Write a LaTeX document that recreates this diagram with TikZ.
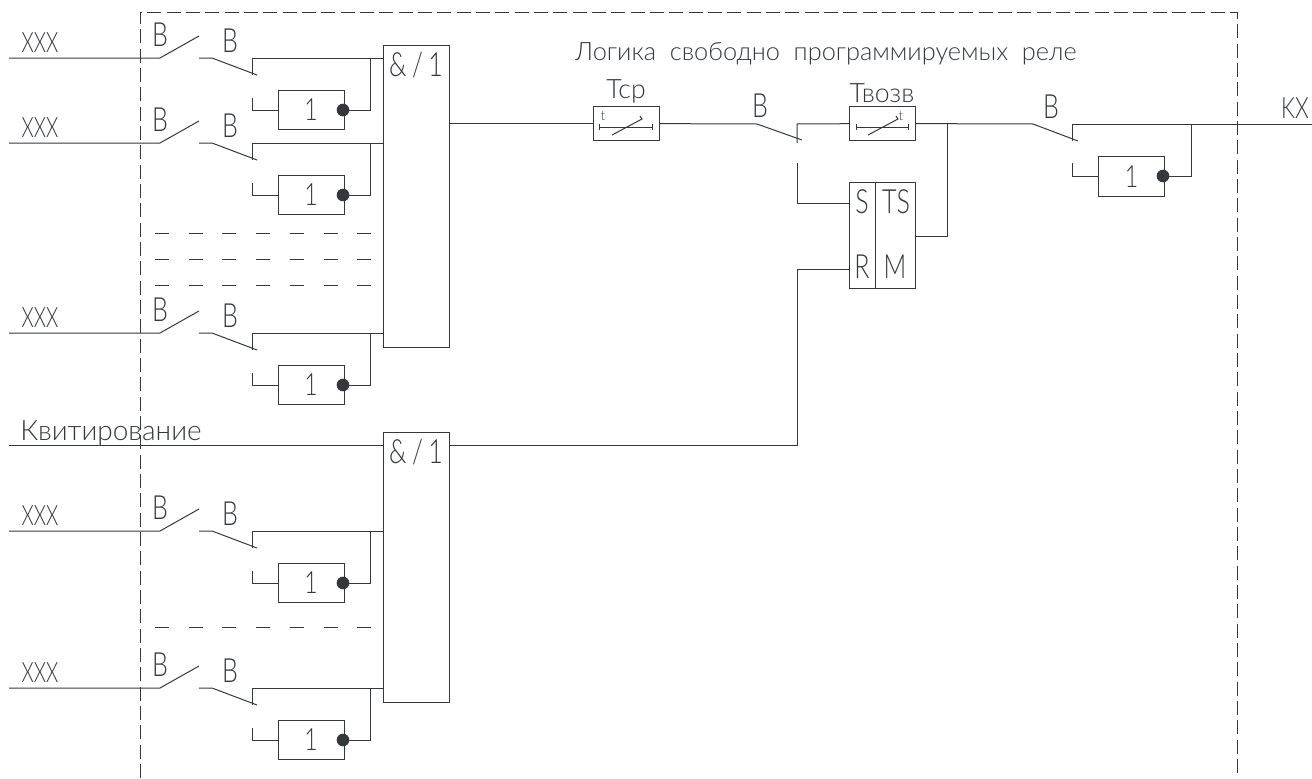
\documentclass[tikz,border=0pt]{standalone}
\usepackage{fontspec}
\setmainfont{Lato}[UprightFont=* Light]
\newfontfamily\slimfont{Lato}[UprightFont=* Light, FakeStretch=0.75]
\newfontfamily\thinfont{Lato}[UprightFont=* Light, FakeStretch=0.7]
\usepackage{xcolor}
\usetikzlibrary{shapes,arrows,positioning}
\definecolor{inkline}{HTML}{33383D}

\begin{document}
\begin{tikzpicture}[x=0.75pt, y=-0.75pt, line width=0.75pt, draw=inkline, text=inkline]
    % Define styles
    \tikzstyle{gate} = [rectangle, draw, minimum width=49.5pt, inner sep=0pt, outer sep=0pt]
    \tikzstyle{invert} = [rectangle, draw, minimum width=49.5pt, minimum height=29.5pt, inner sep=0pt, outer sep=0pt, font=\slimfont\fontsize{23}{23}\selectfont]
    \tikzstyle{blob} = [circle, fill=inkline, minimum size=9.5pt, inner sep=0pt, outer sep=0pt]
    \tikzstyle{timer} = [rectangle, draw, minimum width=49.5pt, minimum height=25pt, inner sep=0pt, outer sep=0pt]
    \tikzstyle{trigger} = [rectangle, draw, minimum width=49.5pt, minimum height=79pt, inner sep=0pt, outer sep=0pt]
    \tikzstyle{lbl} = [anchor=base, inner sep=0pt, font=\slimfont\fontsize{25}{25}\selectfont]
    \tikzstyle{small} = [anchor=base, inner sep=0pt, font=\fontsize{10}{10}\selectfont]
    \tikzstyle{wire} = [line width=0.75pt]
    \tikzstyle{frame} = [line width=0.7pt, dash pattern=on 10.5pt off 4pt]
    \tikzstyle{gap} = [line width=0.7pt, dash pattern=on 10.5pt off 14.8pt]

    \useasboundingbox (0,0) rectangle (1312,778);

    % Outer frame
    \draw [frame] (140,778) -- (140,12) -- (1237,12) -- (1237,778);

    % Gates
    \node [gate, minimum height=226.5pt] (gateA) at (416,196) {};
    \node [gate, minimum height=202.5pt] (gateB) at (416,567) {};
    \node [lbl] (gateAname) at (416,76) {\&\,/\,1};
    \node [lbl] (gateBname) at (416,463) {\&\,/\,1};

    % Input channels
    \foreach \i/\y/\g in {1/58/gateA, 2/143/gateA, 3/333/gateA, 4/531/gateB, 5/688/gateB} {
        \coordinate (in\i) at (9,\y);
        \coordinate (piv\i) at (160,\y);
        \coordinate (tip\i) at (199,\y-22);
        \coordinate (con\i) at (199,\y);
        \coordinate (bend\i) at (212,\y);
        \coordinate (end\i) at (257,\y+17);
        \coordinate (tap\i) at (252,\y);
        \coordinate (low\i) at (252,\y+17);
        \coordinate (back\i) at (252,\y+40);
        \coordinate (fb\i) at (370,\y);
        \node [lbl, font=\thinfont\fontsize{21}{21}\selectfont] (xxx\i) at (40,\y-6) {XXX};
        \node [lbl] (ba\i) at (160,\y-12) {B};
        \node [lbl] (bb\i) at (230,\y-6) {B};
        \node [invert] (inv\i) at (311,\y+52) {1};
        \node [blob] (dot\i) at (343,\y+52) {};
        \draw [wire] (in\i) -- (piv\i) -- (tip\i);
        \draw [wire] (con\i) -- (bend\i) -- (end\i);
        \draw [wire] (low\i) -- (tap\i) -- (tap\i -| \g.west);
        \draw [wire] (back\i) |- (inv\i.west);
        \draw [wire] (dot\i) -| (fb\i);
    }

    % Omitted channels
    \draw [gap] (155,233) -- (372,233);
    \draw [gap] (155,259) -- (372,259);
    \draw [gap] (155,285) -- (372,285);
    \draw [gap] (155,627) -- (372,627);

    % Reset line
    \coordinate (kvit) at (9,445);
    \node [lbl, font=\fontsize{21}{21}\selectfont] (kvitname) at (111,440) {Квитирование};
    \draw [wire] (kvit) -- (kvit -| gateB.west);

    % Title
    \node [lbl, font=\fontsize{19}{19}\selectfont] (title) at (826,60) {Логика\ \ свободно\ \ программируемых\ \ реле};

    % Timers
    \node [timer] (tcp) at (626,123.5) {};
    \node [timer] (tvozv) at (882,123.5) {};
    \node [lbl, font=\fontsize{20}{20}\selectfont] (tcpname) at (626,98) {Тср};
    \node [lbl, font=\fontsize{20}{20}\selectfont] (tvozvname) at (882,102) {Твозв};
    \node [small] (tcpt) at (603,120) {t};
    \node [small] (tvozvt) at (901,120) {t};
    \draw [wire] ([shift={(-27,3.5)}]tcp.center) -- ++(53,0);
    \draw [wire] ([shift={(-27,0.5)}]tcp.center) -- ++(0,6);
    \draw [wire] ([shift={(26,0.5)}]tcp.center) -- ++(0,6);
    \draw [wire] ([shift={(-14,11.5)}]tcp.center) -- ++(30,-16) -- ++(-2,-3);
    \draw [wire] ([shift={(-26,3.5)}]tvozv.center) -- ++(52,0);
    \draw [wire] ([shift={(-26,0.5)}]tvozv.center) -- ++(0,6);
    \draw [wire] ([shift={(26,0.5)}]tvozv.center) -- ++(0,6);
    \draw [wire] ([shift={(-14,11.5)}]tvozv.center) -- ++(30,-16) -- ++(-2,-3);

    % Trigger
    \node [trigger] (ts) at (882,235.5) {};
    \draw [wire] (875,183) -- (875,288);
    \node [lbl] (sname) at (862,213) {S};
    \node [lbl] (tsname) at (896,213) {TS};
    \node [lbl] (rname) at (862,278) {R};
    \node [lbl] (mname) at (895,278) {M};

    % Middle contact
    \coordinate (sw) at (757,124);
    \coordinate (swend) at (802,140);
    \coordinate (swtap) at (797,124);
    \coordinate (swlow) at (797,143);
    \coordinate (swback) at (797,163);
    \coordinate (setin) at (849,203);
    \coordinate (resin) at (849,269);
    \coordinate (resbend) at (797,445);
    \coordinate (tsout) at (915,236);
    \coordinate (tsup) at (947,124);
    \node [lbl] (swname) at (760,117) {B};

    % Output contact
    \coordinate (op) at (1033,124);
    \coordinate (opend) at (1078,141);
    \coordinate (optap) at (1072,124);
    \coordinate (oplow) at (1072,141);
    \coordinate (opback) at (1072,163);
    \coordinate (opfb) at (1191,124);
    \coordinate (kx) at (1312,124);
    \node [lbl] (opname) at (1051,118) {B};
    \node [lbl, font=\slimfont\fontsize{22}{22}\selectfont] (kxname) at (1295,118) {KX};
    \node [invert] (invout) at (1131.5,176.5) {1};
    \node [blob] (dotout) at (1163,176) {};

    % Connections
    \draw [wire] (gateA.east |- tcp) -- (tcp);
    \draw [wire] (tcp) -- (sw) -- (swend);
    \draw [wire] (swlow) -- (swtap) -- (tvozv);
    \draw [wire] (tvozv) -- (op) -- (opend);
    \draw [wire] (swback) |- (setin);
    \draw [wire] (gateB.east |- resbend) -- (resbend) |- (resin);
    \draw [wire] (tsout) -| (tsup);
    \draw [wire] (oplow) -- (optap) -- (kx);
    \draw [wire] (opback) |- (invout.west);
    \draw [wire] (dotout) -| (opfb);
\end{tikzpicture}
\end{document}
